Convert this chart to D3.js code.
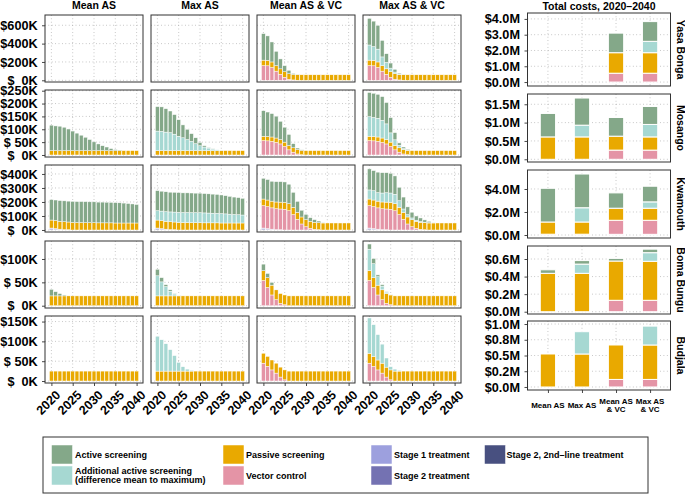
<!DOCTYPE html>
<html><head><meta charset="utf-8">
<script src="https://cdn.jsdelivr.net/npm/d3@7"></script>
<style>
body{margin:0;background:#fff}
text{font-family:"Liberation Sans",Arial,Helvetica,sans-serif;font-weight:bold;fill:#000;white-space:pre}
</style>
</head><body><svg id="c" width="685" height="497" xmlns="http://www.w3.org/2000/svg"></svg>
<script>
// ---------------- DATA ----------------
const years = [2020,2021,2022,2023,2024,2025,2026,2027,2028,2029,2030,2031,2032,2033,2034,2035,2036,2037,2038,2039,2040];
const zones = ["Yasa Bonga","Mosango","Kwamouth","Boma Bungu","Budjala"];
const strategies = ["Mean AS","Max AS","Mean AS & VC","Max AS & VC"];
const strategyLabels = [["Mean AS"],["Max AS"],["Mean AS","& VC"],["Max AS","& VC"]];
const componentKeys = ["T2b","T2","T1","VC","PS","AAS","AS"];
const componentColors = ["#485080","#7472B2","#9DA0DE","#E494A6","#E9A900","#A6D8D2","#84A889"];
const legendLabels = {
  AS:["Active screening"], AAS:["Additional active screening","(difference mean to maximum)"],
  PS:["Passive screening"], VC:["Vector control"],
  T1:["Stage 1 treatment"], T2:["Stage 2 treatment"], T2b:["Stage 2, 2nd\u2013line treatment"]
};

// yearly costs, thousand USD
// Yasa Bonga
const ybVC        = [160,158,140,100,65,33,12,4,1,0,0,0,0,0,0,0,0,0,0,0,0];
const ybPS        = [60,60,60,60,60,60,60,60,60,60,60,60,60,60,60,60,60,60,60,60,60];
const ybMeanVC_AS = [289,266,218,156,108,67,37,10,2,0,0,0,0,0,0,0,0,0,0,0,0];
const ybMaxVC_AAS = [165,150,140,95,70,40,18,5,1,0,0,0,0,0,0,0,0,0,0,0,0];
const ybMaxVC_AS  = [290,277,260,180,95,55,30,10,2,0,0,0,0,0,0,0,0,0,0,0,0];
// Mosango
const moPS        = [17,17,17,17,17,17,17,17,17,17,17,17,17,17,17,17,17,17,17,17,17];
const moMean_AS   = [99,96,95,91,84,76,68,60,52,43,34,26,19,14,8,4,2,0,0,0,0];
const moMax_AAS   = [76,75,72,70,64,56,50,43,36,27,19,14,10,6,3,1,0,0,0,0,0];
const moMax_AS    = [95,95,91,84,76,64,50,40,30,23,13,5,2,1,0,0,0,0,0,0,0];
const moVC        = [56,55,53,49,43,33,20,11,4,1,0,0,0,0,0,0,0,0,0,0,0];
const moMeanVC_AS = [99,95,91,85,71,58,43,16,6,2,0,0,0,0,0,0,0,0,0,0,0];
const moMaxVC_AAS = [76,74,73,69,61,36,22,10,4,1,0,0,0,0,0,0,0,0,0,0,0];
const moMaxVC_AS  = [94,94,93,92,83,59,28,9,6,3,0,0,0,0,0,0,0,0,0,0,0];
// Kwamouth
const kwT1        = [4,3,2,1,1,0,0,0,0,0,0,0,0,0,0,0,0,0,0,0,0];
const kwT2        = [8,6,3,2,1,0,0,0,0,0,0,0,0,0,0,0,0,0,0,0,0];
const kwT2b       = [2,1,1,0,0,0,0,0,0,0,0,0,0,0,0,0,0,0,0,0,0];
const kwPS        = [57,57,56,56,55,54,53,53,52,52,52,51,51,51,51,50,50,50,50,50,50];
const kwMean_AS   = [146,147,148,149,149,150,150,150,150,149,149,148,148,147,146,145,144,142,139,136,132];
const kwMax_AAS   = [67,68,69,70,71,72,72,72,72,72,72,71,70,69,68,67,65,63,61,59,57];
const kwMax_AS    = [143,142,142,141,141,141,140,140,140,139,139,138,137,136,135,133,130,127,124,122,119];
const kwVC        = [160,157,152,149,148,148,138,110,76,43,24,12,5,2,0,0,0,0,0,0,0];
const kwVC_PS     = [47,47,48,48,49,49,50,52,50,50,50,50,50,50,50,50,50,50,50,50,50];
const kwMeanVC_AS = [148,146,142,145,146,146,139,107,78,48,38,26,19,12,3,0,0,0,0,0,0];
const kwMaxVC_AAS = [65,67,61,64,67,67,67,47,24,17,12,8,6,4,2,0,0,0,0,0,0];
const kwMaxVC_AS  = [150,143,146,145,143,141,131,96,85,55,41,30,25,16,10,2,0,0,0,0,0];
// Boma Bungu
const bbPS        = [21,21,21,21,21,21,21,21,21,21,21,21,21,21,21,21,21,21,21,21,21];
const bbMean_AS   = [14,9,5,2,0,0,0,0,0,0,0,0,0,0,0,0,0,0,0,0,0];
const bbMax_AAS   = [43,30,20,10,4,1,0,0,0,0,0,0,0,0,0,0,0,0,0,0,0];
const bbMax_AS    = [14,9,4,3,1,0,0,0,0,0,0,0,0,0,0,0,0,0,0,0,0];
const bbVC        = [54,39,23,13,5,2,0,0,0,0,0,0,0,0,0,0,0,0,0,0,0];
const bbMeanVC_AS = [14,9,6,1,0,0,0,0,0,0,0,0,0,0,0,0,0,0,0,0,0];
const bbMaxVC_AAS = [46,30,18,8,3,1,0,0,0,0,0,0,0,0,0,0,0,0,0,0,0];
const bbMaxVC_AS  = [11,11,4,3,1,0,0,0,0,0,0,0,0,0,0,0,0,0,0,0,0];
// Budjala
const buPS        = [25,25,25,25,25,25,25,25,25,25,25,25,25,25,25,25,25,25,25,25,25];
const buMax_AAS   = [88,79,69,54,39,22,11,5,2,0,0,0,0,0,0,0,0,0,0,0,0];
const buVC        = [45,37,28,20,10,3,0,0,0,0,0,0,0,0,0,0,0,0,0,0,0];
const buMaxVC_AAS = [89,80,64,48,23,8,5,2,0,0,0,0,0,0,0,0,0,0,0,0,0];

// Totals 2020-2040, million USD, per strategy (Mean AS, Max AS, Mean AS & VC, Max AS & VC)
const totYB_VC  = [0,0,0.56,0.56];
const totYB_PS  = [0,0,1.30,1.30];
const totYB_AAS = [0,0,0,0.72];
const totYB_AS  = [0,0,1.24,1.25];
const totMO_VC  = [0,0,0.25,0.25];
const totMO_PS  = [0.61,0.61,0.38,0.36];
const totMO_AAS = [0,0.32,0,0.34];
const totMO_AS  = [0.64,0.74,0.51,0.49];
const totKW_T1  = [0.04,0.04,0.03,0.03];
const totKW_T2  = [0.03,0.03,0.03,0.03];
const totKW_VC  = [0,0,1.22,1.22];
const totKW_PS  = [1.06,1.06,1.05,1.05];
const totKW_AAS = [0,1.24,0,0.55];
const totKW_AS  = [2.93,2.93,1.33,1.36];
const totBB_VC  = [0,0,0.13,0.13];
const totBB_PS  = [0.437,0.437,0.447,0.444];
const totBB_AAS = [0,0.105,0,0.098];
const totBB_AS  = [0.04,0.04,0.03,0.04];
const totBU_VC  = [0,0,0.12,0.12];
const totBU_PS  = [0.524,0.524,0.547,0.547];
const totBU_AAS = [0,0.354,0,0.30];

// axis ticks
const leftTicks = [[0,200,400,600],[0,50,100,150,200,250],[0,100,200,300,400],[0,50,100],[0,50,100,150]];
const leftDomains = [[-18.5,712],[-7.8,252.7],[-14.3,464],[-4.9,138.5],[-5,164]];
const yearTicks = [2020,2025,2030,2035,2040];
const rightTicks = [[0,1,2,3,4],[0,0.5,1,1.5],[0,2,4],[0,0.2,0.4,0.6],[0,0.25,0.5,0.75,1]];
const rightTickLabels = [["$0.0M","$1.0M","$2.0M","$3.0M","$4.0M"],["$0.0M","$0.5M","$1.0M","$1.5M"],["$0.0M","$2.0M","$4.0M"],["$0.0M","$0.2M","$0.4M","$0.6M"],["$0.0M","$0.2M","$0.5M","$0.8M","$1.0M"]];
const rightDomains = [[-0.25,4.375],[-0.074,1.78],[-0.26,5.65],[-0.026,0.748],[-0.048,1.048]];

// ---------------- TABLES ----------------
const leftSeries = [
  [{}, {}, {VC:ybVC,PS:ybPS,AS:ybMeanVC_AS}, {VC:ybVC,PS:ybPS,AAS:ybMaxVC_AAS,AS:ybMaxVC_AS}],
  [{PS:moPS,AS:moMean_AS}, {PS:moPS,AAS:moMax_AAS,AS:moMax_AS}, {VC:moVC,PS:moPS,AS:moMeanVC_AS}, {VC:moVC,PS:moPS,AAS:moMaxVC_AAS,AS:moMaxVC_AS}],
  [{T2b:kwT2b,T2:kwT2,T1:kwT1,PS:kwPS,AS:kwMean_AS}, {T2b:kwT2b,T2:kwT2,T1:kwT1,PS:kwPS,AAS:kwMax_AAS,AS:kwMax_AS},
   {T2b:kwT2b,T2:kwT2,T1:kwT1,VC:kwVC,PS:kwVC_PS,AS:kwMeanVC_AS}, {T2b:kwT2b,T2:kwT2,T1:kwT1,VC:kwVC,PS:kwVC_PS,AAS:kwMaxVC_AAS,AS:kwMaxVC_AS}],
  [{PS:bbPS,AS:bbMean_AS}, {PS:bbPS,AAS:bbMax_AAS,AS:bbMax_AS}, {VC:bbVC,PS:bbPS,AS:bbMeanVC_AS}, {VC:bbVC,PS:bbPS,AAS:bbMaxVC_AAS,AS:bbMaxVC_AS}],
  [{PS:buPS}, {PS:buPS,AAS:buMax_AAS}, {VC:buVC,PS:buPS}, {VC:buVC,PS:buPS,AAS:buMaxVC_AAS}]
];
const rightSeries = [
  {VC:totYB_VC,PS:totYB_PS,AAS:totYB_AAS,AS:totYB_AS},
  {VC:totMO_VC,PS:totMO_PS,AAS:totMO_AAS,AS:totMO_AS},
  {T1:totKW_T1,T2:totKW_T2,VC:totKW_VC,PS:totKW_PS,AAS:totKW_AAS,AS:totKW_AS},
  {VC:totBB_VC,PS:totBB_PS,AAS:totBB_AAS,AS:totBB_AS},
  {VC:totBU_VC,PS:totBU_PS,AAS:totBU_AAS}
];

// ---------------- LAYOUT ----------------
const color = d3.scaleOrdinal().domain(componentKeys).range(componentColors);
const svg = d3.select("#c");
const leftX = [45,151,257,363], leftW = 98;
const leftY = [15,90,165,241,316], leftH = 67;
const rightX0 = 527.5, rightX1 = 670.5;
const rightY = [13,94,170,246,321], rightH = [73,68,68,68,69];
const gridCol = "#aaa", borderCol = "#333";

function grid(g, xs, ys, xv, yv, x0, x1, y0, y1){
  g.selectAll("line.gx").data(xv).join("line").attr("class","gx")
    .attr("x1",d=>xs(d)).attr("x2",d=>xs(d)).attr("y1",y0).attr("y2",y1)
    .attr("stroke",gridCol).attr("stroke-width",0.8).attr("stroke-dasharray","0.8,2.6");
  g.selectAll("line.gy").data(yv).join("line").attr("class","gy")
    .attr("y1",d=>ys(d)).attr("y2",d=>ys(d)).attr("x1",x0).attr("x2",x1)
    .attr("stroke",gridCol).attr("stroke-width",0.8).attr("stroke-dasharray","0.8,2.6");
}
function styleAxis(g, fs){
  g.select(".domain").remove();
  g.selectAll(".tick line").attr("stroke",borderCol).attr("stroke-width",0.9);
  g.selectAll(".tick text").attr("font-size",fs).attr("font-family",null).attr("fill","#000");
}

// column titles
strategies.forEach((s,j)=>{
  svg.append("text").attr("x",leftX[j]+leftW/2).attr("y",9.2).attr("text-anchor","middle")
    .attr("font-size",10.5).text(s);
});
svg.append("text").attr("x",(rightX0+rightX1)/2).attr("y",9.8).attr("text-anchor","middle")
  .attr("font-size",10.5).text("Total costs, 2020\u20132040");

// left panels
zones.forEach((z,i)=>{
  const y0 = leftY[i], y1 = y0+leftH;
  const ys = d3.scaleLinear().domain(leftDomains[i]).range([y1,y0]);
  const maxLen = String(d3.max(leftTicks[i])).length;
  const fmt = v => "$" + String(v).padStart(maxLen," ") + "K";
  strategies.forEach((s,j)=>{
    const x0 = leftX[j], x1 = x0+leftW;
    const xs = d3.scaleLinear().domain([2018.5,2041.5]).range([x0,x1]);
    const g = svg.append("g");
    grid(g, xs, ys, yearTicks, leftTicks[i], x0, x1, y0, y1);
    const ser = leftSeries[i][j];
    const rows = years.map((yr,k)=>{const r={year:yr}; componentKeys.forEach(c=>{r[c]=ser[c]?ser[c][k]:0;}); return r;});
    const stacked = d3.stack().keys(componentKeys)(rows);
    const bw = xs(2020.9)-xs(2020);
    g.selectAll("g.layer").data(stacked).join("g").attr("class","layer").attr("fill",d=>color(d.key))
      .selectAll("rect").data(d=>d.filter(p=>p[1]-p[0]>0)).join("rect")
      .attr("x",p=>xs(p.data.year)-bw/2).attr("width",bw)
      .attr("y",p=>ys(p[1])).attr("height",p=>ys(p[0])-ys(p[1]))
      .attr("stroke","#fff").attr("stroke-width",0.45);
    g.append("rect").attr("x",x0).attr("y",y0).attr("width",leftW).attr("height",leftH)
      .attr("fill","none").attr("stroke",borderCol).attr("stroke-width",1);
    if (j===0){
      const ax = svg.append("g").attr("transform",`translate(${x0},0)`)
        .call(d3.axisLeft(ys).tickValues(leftTicks[i]).tickFormat(fmt).tickSize(3).tickPadding(4.3));
      styleAxis(ax, 12.7);
    }
    if (i===zones.length-1){
      const ax = svg.append("g").attr("transform",`translate(0,${y1})`)
        .call(d3.axisBottom(xs).tickValues(yearTicks).tickFormat(d3.format("d")).tickSize(3));
      styleAxis(ax, 12.5);
      ax.selectAll(".tick text").attr("y",0).attr("dy",null)
        .attr("text-anchor","end").attr("dominant-baseline","hanging")
        .attr("transform","translate(3,6.5) rotate(-45)");
    }
  });
});

// right panels
const xr = d3.scalePoint().domain(strategies).range([rightX0,rightX1]).padding(0.6);
const rbw = xr.step()*0.45;
zones.forEach((z,i)=>{
  const y0 = rightY[i], y1 = y0+rightH[i];
  const ys = d3.scaleLinear().domain(rightDomains[i]).range([y1,y0]);
  const g = svg.append("g");
  grid(g, xr, ys, strategies, rightTicks[i], rightX0, rightX1, y0, y1);
  const ser = rightSeries[i];
  const rows = strategies.map((s,k)=>{const r={strategy:s}; componentKeys.forEach(c=>{r[c]=ser[c]?ser[c][k]:0;}); return r;});
  const stacked = d3.stack().keys(componentKeys)(rows);
  g.selectAll("g.layer").data(stacked).join("g").attr("class","layer").attr("fill",d=>color(d.key))
    .selectAll("rect").data(d=>d.filter(p=>p[1]-p[0]>0)).join("rect")
    .attr("x",p=>xr(p.data.strategy)-rbw/2).attr("width",rbw)
    .attr("y",p=>ys(p[1])).attr("height",p=>ys(p[0])-ys(p[1]))
    .attr("stroke","#fff").attr("stroke-width",1);
  g.append("rect").attr("x",rightX0).attr("y",y0).attr("width",rightX1-rightX0).attr("height",rightH[i])
    .attr("fill","none").attr("stroke",borderCol).attr("stroke-width",1);
  const ax = svg.append("g").attr("transform",`translate(${rightX0},0)`)
    .call(d3.axisLeft(ys).tickValues(rightTicks[i]).tickFormat((d,k)=>rightTickLabels[i][k]).tickSize(3).tickPadding(4.5));
  styleAxis(ax, 12.7);
  svg.append("text").attr("transform",`translate(676.5,${y0+rightH[i]/2}) rotate(90)`)
    .attr("text-anchor","middle").attr("font-size",10.5).text(z);
  if (i===zones.length-1){
    const axb = svg.append("g").attr("transform",`translate(0,${y1})`)
      .call(d3.axisBottom(xr).tickSize(3).tickFormat(""));
    styleAxis(axb, 8);
    strategies.forEach((s,k)=>{
      const lines = strategyLabels[k];
      const t = svg.append("text").attr("text-anchor","middle").attr("font-size",8);
      lines.forEach((ln,m)=>{
        const yb = lines.length===1 ? 408 : 404 + m*8.3;
        t.append("tspan").attr("x",xr(s)).attr("y",yb).text(ln);
      });
    });
  }
});

// legend
const lg = svg.append("g");
lg.append("rect").attr("x",43).attr("y",437).attr("width",605).attr("height",56)
  .attr("fill","#fff").attr("stroke",borderCol).attr("stroke-width",1);
const legendItems = [
  {key:"AS",col:0,row:0},{key:"AAS",col:0,row:1},
  {key:"PS",col:1,row:0},{key:"VC",col:1,row:1},
  {key:"T1",col:2,row:0},{key:"T2",col:2,row:1},
  {key:"T2b",col:3,row:0}
];
const legKeyX = [51.5,223,371,484.5], legTextX = [75,246,394,506.5], legKeyY = [445,466];
legendItems.forEach(it=>{
  lg.append("rect").attr("x",legKeyX[it.col]).attr("y",legKeyY[it.row]).attr("width",21).attr("height",19)
    .attr("fill",color(it.key)).attr("stroke","#fff").attr("stroke-width",0.5);
  const lines = legendLabels[it.key];
  const cy = legKeyY[it.row]+9.5;
  const t = lg.append("text").attr("font-size",9);
  lines.forEach((ln,m)=>{
    const yc = lines.length===1 ? cy : cy - 4.3 + m*8.6;
    t.append("tspan").attr("x",legTextX[it.col]).attr("y",yc+3.2).text(ln);
  });
});
</script>
</body></html>
